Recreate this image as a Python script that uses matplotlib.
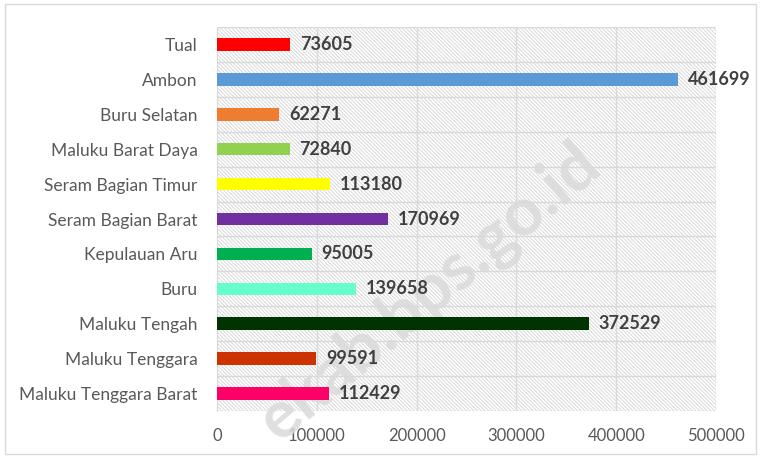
import matplotlib
matplotlib.use('Agg')
import matplotlib.pyplot as plt
from matplotlib.patches import Rectangle
import numpy as np

# data, bottom to top as drawn
regions = ['Maluku Tenggara Barat', 'Maluku Tenggara', 'Maluku Tengah', 'Buru',
           'Kepulauan Aru', 'Seram Bagian Barat', 'Seram Bagian Timur',
           'Maluku Barat Daya', 'Buru Selatan', 'Ambon', 'Tual']
values = [112429, 99591, 372529, 139658, 95005, 170969, 113180, 72840, 62271, 461699, 73605]
bar_colors = ['#FF0066', '#CC3300', '#003300', '#66FFCC', '#00B050', '#7030A0',
              '#FFFF00', '#92D050', '#ED7D31', '#5B9BD5', '#FF0000']
xticks = [0, 100000, 200000, 300000, 400000, 500000]

plt.rcParams['font.family'] = ['Lato', 'DejaVu Sans']
plt.rcParams['hatch.color'] = '#d2d2d2'
plt.rcParams['hatch.linewidth'] = 0.6

fig = plt.figure(figsize=(7.6, 4.58), dpi=100)
ax = fig.add_axes([217/760, 1-411/458, (716-217)/760, (411-27)/458])

# outer chart border
fig.patches.append(Rectangle((5/760, 4/458), 751/760, 450/458, transform=fig.transFigure,
                             fill=False, edgecolor='#d9d9d9', linewidth=1))

ypos = np.arange(len(regions))
ax.set_xlim(0, 500000)
ax.set_ylim(-0.5, len(regions)-0.5)

# hatched plot background
ax.add_patch(Rectangle((0, 0), 1, 1, transform=ax.transAxes, facecolor='white',
                       edgecolor='#d2d2d2', hatch='\\' * 9, linewidth=0, zorder=0))

# grid lines
for x in xticks[1:]:
    ax.axvline(x, color='#d9d9d9', linewidth=1, zorder=1)
for y in np.arange(-0.5, len(regions), 1.0):
    ax.axhline(y, color='#d9d9d9', linewidth=1, zorder=1)

# watermark, behind the bars and labels
ax.text(430/760, 1-292/458, 'ekab.bps.go.id', transform=fig.transFigure, rotation=40,
        ha='center', va='center', fontsize=48, fontweight='bold', color='#dadada',
        alpha=0.85, rotation_mode='anchor', zorder=2, clip_on=False)

ax.barh(ypos, values, height=0.36, color=bar_colors, zorder=3)

for y, v in zip(ypos, values):
    ax.annotate(str(v), (v, y), xytext=(7, 0), textcoords='offset points',
                va='center', ha='left', fontsize=13, fontweight='bold', color='#404040',
                zorder=4)

ax.set_yticks(ypos)
ax.set_yticklabels(regions, fontsize=12.5, color='#595959')
ax.set_xticks(xticks)
ax.set_xticklabels([str(t) for t in xticks], fontsize=12, color='#595959')
ax.tick_params(axis='y', length=0, pad=14)
ax.tick_params(axis='x', length=0, pad=12)
for s in ['top', 'right', 'bottom']:
    ax.spines[s].set_visible(False)
ax.spines['left'].set_color('#d9d9d9')

fig.savefig('out.png', dpi=100)
